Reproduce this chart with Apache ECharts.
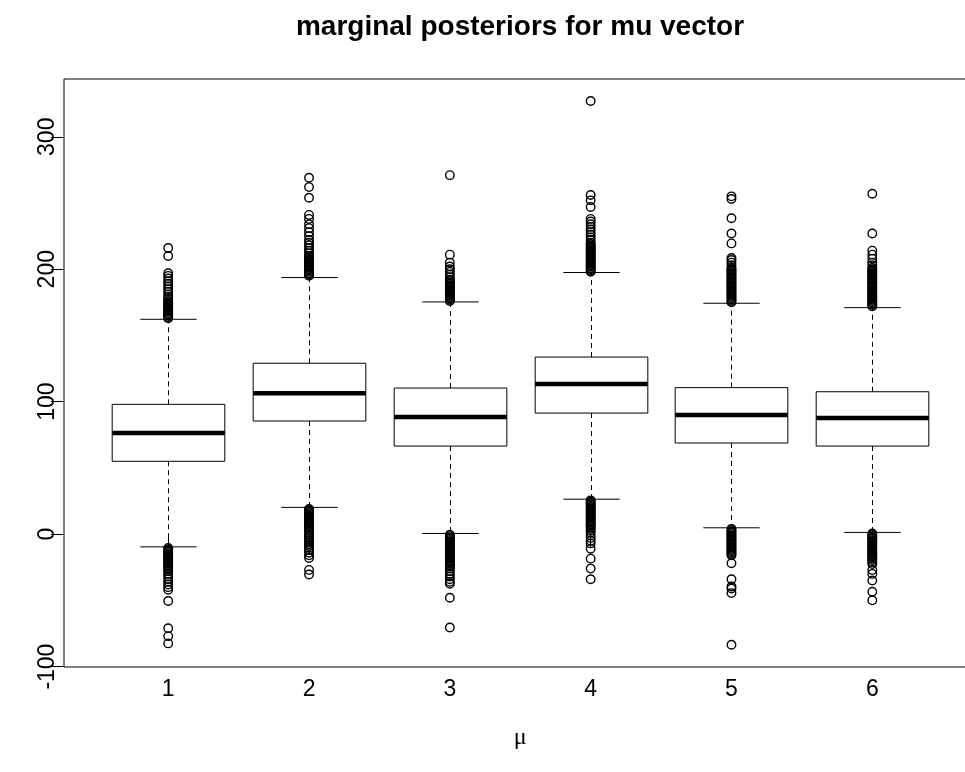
<!DOCTYPE html>
<html>
<head>
<meta charset="utf-8">
<script src="https://cdn.jsdelivr.net/npm/echarts@6/dist/echarts.min.js"></script>
<style>
html,body{margin:0;padding:0;background:#fff;overflow:hidden;width:965px;height:772px;}
#chart{width:980px;height:772px;}
</style>
</head>
<body>
<div id="chart"></div>
<script>
// ---- data ----
const categories = ['1', '2', '3', '4', '5', '6'];
const positions = [1, 2, 3, 4, 5, 6];
const whiskerLow = [-9.6, 20.2, 0.5, 26.4, 4.8, 1.3];
const quartile1 = [55, 85.4, 66.5, 91.4, 68.8, 66.5];
const medians = [76.3, 106.3, 88.4, 113.3, 89.9, 87.6];
const quartile3 = [98, 129, 110.3, 133.7, 110.6, 107.5];
const whiskerHigh = [162.2, 193.7, 175.3, 197.5, 174.3, 171];

const outliers1 = [163,164,165,166,167,168,169,170,171,172,173,174,175,176,177.5,179,181,183,185,187,189,191,193,195,197,210,216,
  -10.5,-11.5,-12.5,-13.5,-14.5,-15.5,-16.5,-17.5,-18.5,-19.5,-20.5,-21.5,-22.5,-23.5,-24.5,-25.5,-26.5,-28,-30,-32,-34,-36,-38,-40,-42,-50.5,-71,-77,-82.5];
const outliers2 = [195,196,197,198,199,200,201,202,203,204,205,206,207,208,209,210,212,214,216,218,220,222,225,228,231,234,238,241,254,262,269,
  19,18,17,16,15,14,13,12,11,10,9,8,7,6,5,4,3,1.5,0,-1.5,-3,-4.5,-6,-7.5,-9,-10.5,-12,-14,-16,-18,-27,-30.5];
const outliers3 = [176,177,178,179,180,181,182,183,184,185,186,187,188,189,190,191,192,194,196,198,200,202,205,211,271,
  -0.5,-1.5,-2.5,-3.5,-4.5,-5.5,-6.5,-7.5,-8.5,-9.5,-10.5,-11.5,-12.5,-13.5,-14.5,-15.5,-16.5,-17.5,-18.5,-19.5,-20.5,-21.5,-22.5,-23.5,-24.5,-26,-28,-30,-32,-34,-36,-37.5,-48,-70.5];
const outliers4 = [198,199,200,201,202,203,204,205,206,207,208,209,210,211,212,213,214,215,216,217,218,219,220,222,224,226,228,230,232,234,236,238,247,252,256,327,
  25.5,24.5,23.5,22.5,21.5,20.5,19.5,18.5,17.5,16.5,15.5,14.5,13.5,12.5,11.5,10.5,9.5,8.5,7.5,6.5,5.5,4,2.5,1,-1,-3,-5,-7,-11,-18.5,-26,-34];
const outliers5 = [175,176,177,178,179,180,181,182,183,184,185,186,187,188,189,190,191,192,193,194,195,196,197,198,199,200,201,203,205,207,208.5,219.5,227,238.5,253,255,
  4,3,2,1,0,-1,-2,-3,-4,-5,-6,-7,-8,-9,-10,-11,-12,-13,-14,-15,-16,-22,-34,-39.5,-41,-44.5,-83.5];
const outliers6 = [172,173,174,175,176,177,178,179,180,181,182,183,184,185,186,187,188,189,190,191,192,193,194,195,196,197,198,199,200,201,203,205,208,211,214,227,257,
  0.5,-0.5,-1.5,-2.5,-3.5,-4.5,-5.5,-6.5,-7.5,-8.5,-9.5,-10.5,-11.5,-12.5,-13.5,-14.5,-15.5,-16.5,-17.5,-18.5,-19.5,-21,-22.5,-27,-30,-35,-43.5,-50];
const outlierGroups = [outliers1, outliers2, outliers3, outliers4, outliers5, outliers6];
const yTicks = [-100, 0, 100, 200, 300];
const titleText = 'marginal posteriors for mu vector';
const xName = 'μ';

// ---- build ----
const boxData = positions.map((p, i) => [p, quartile1[i], medians[i], quartile3[i], whiskerLow[i], whiskerHigh[i]]);
const outlierData = [];
outlierGroups.forEach((g, i) => g.forEach(v => outlierData.push([positions[i], v])));

const chart = echarts.init(document.getElementById('chart'), null, {renderer: 'canvas'});
const fontFam = '"Liberation Sans", Arial, sans-serif';

chart.setOption({
  animation: false,
  backgroundColor: '#ffffff',
  title: {
    text: titleText,
    left: 520,
    top: 13,
    padding: 0,
    textAlign: 'center',
    textStyle: {fontFamily: fontFam, fontWeight: 'bold', fontSize: 28, color: '#000'}
  },
  grid: {
    left: 64, right: 3.5, top: 79, bottom: 105,
    show: true, borderColor: '#000', borderWidth: 1, backgroundColor: 'transparent'
  },
  xAxis: {
    type: 'value',
    min: 0.26, max: 6.74,
    name: xName,
    nameLocation: 'middle',
    nameGap: 59,
    nameTextStyle: {fontFamily: '"Liberation Serif", "DejaVu Serif", serif', fontSize: 24, color: '#000'},
    axisLine: {show: false},
    splitLine: {show: false},
    axisTick: {show: true, length: 13, inside: false, customValues: positions, lineStyle: {color: '#000', width: 1}},
    axisLabel: {
      customValues: positions,
      margin: 11,
      fontFamily: fontFam, fontSize: 23, color: '#000',
      formatter: function (v) { return categories[Math.round(v) - 1]; }
    }
  },
  yAxis: {
    type: 'value',
    min: -100.3, max: 343.6,
    axisLine: {show: false},
    splitLine: {show: false},
    axisTick: {show: true, length: 13, inside: false, customValues: yTicks, lineStyle: {color: '#000', width: 1}},
    axisLabel: {
      customValues: yTicks,
      rotate: 90,
      margin: 5,
      fontFamily: fontFam, fontSize: 23, color: '#000'
    }
  },
  series: [
    {
      type: 'custom',
      data: boxData,
      encode: {x: 0, y: [1, 2, 3, 4, 5]},
      clip: false,
      renderItem: function (params, api) {
        const x = api.value(0);
        const pq1 = api.coord([x, api.value(1)]);
        const pmed = api.coord([x, api.value(2)]);
        const pq3 = api.coord([x, api.value(3)]);
        const plo = api.coord([x, api.value(4)]);
        const phi = api.coord([x, api.value(5)]);
        const bw = api.size([0.8, 0])[0];
        const cw = bw / 2;
        const cx = Math.round(pq1[0]) + 0.5;
        const dash = {stroke: '#000', lineWidth: 1, lineDash: [5, 4], fill: null};
        const solid = {stroke: '#000', lineWidth: 1, fill: null};
        return {
          type: 'group',
          children: [
            {type: 'line', shape: {x1: cx, y1: pq3[1], x2: cx, y2: phi[1]}, style: dash},
            {type: 'line', shape: {x1: cx, y1: pq1[1], x2: cx, y2: plo[1]}, style: dash},
            {type: 'line', shape: {x1: cx - cw / 2, y1: phi[1], x2: cx + cw / 2, y2: phi[1]}, style: solid},
            {type: 'line', shape: {x1: cx - cw / 2, y1: plo[1], x2: cx + cw / 2, y2: plo[1]}, style: solid},
            {type: 'rect', shape: {x: cx - bw / 2, y: pq3[1], width: bw, height: pq1[1] - pq3[1]}, style: {stroke: '#000', lineWidth: 1, fill: '#fff'}},
            {type: 'line', shape: {x1: cx - bw / 2, y1: pmed[1], x2: cx + bw / 2, y2: pmed[1]}, style: {stroke: '#000', lineWidth: 4.5}}
          ]
        };
      }
    },
    {
      type: 'scatter',
      data: outlierData,
      symbol: 'circle',
      symbolSize: 8.5,
      itemStyle: {color: 'rgba(0,0,0,0)', borderColor: '#000', borderWidth: 1.4, opacity: 1},
      emphasis: {disabled: true}
    }
  ]
});
</script>
</body>
</html>
